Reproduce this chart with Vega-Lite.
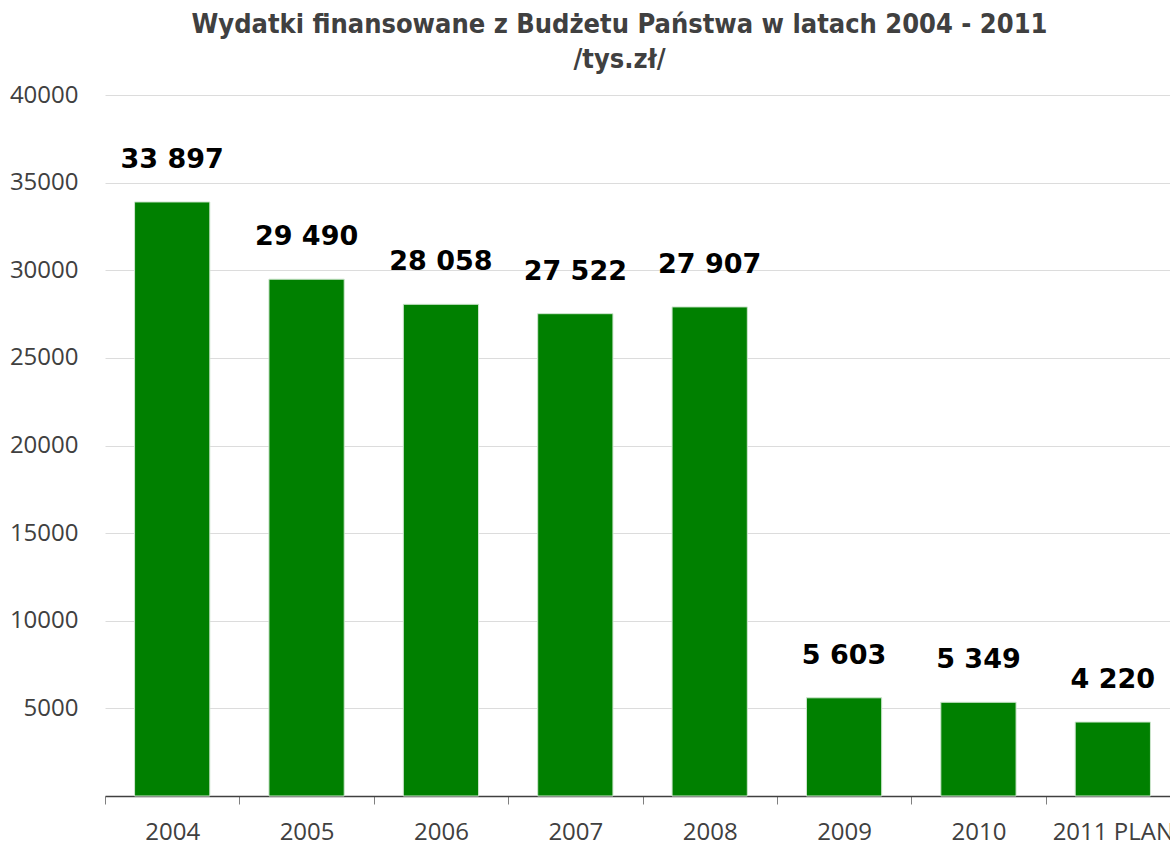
{
  "$schema": "https://vega.github.io/schema/vega-lite/v6.json",
  "autosize": {"type": "none"},
  "padding": {"left": 105, "top": 95, "right": 0, "bottom": 50},
  "width": 1075,
  "height": 701,
  "background": "white",
  "config": {
    "view": {"stroke": null},
    "locale": {"number": {"decimal": ",", "thousands": " ", "grouping": [3], "currency": ["", " zł"]}}
  },
  "title": {
    "text": ["Wydatki finansowane z Budżetu Państwa w latach 2004 - 2011", "/tys.zł/"],
    "font": "DejaVu Sans Condensed",
    "fontWeight": "bold",
    "fontSize": 27,
    "color": "#404040",
    "lineHeight": 35,
    "anchor": "middle",
    "dx": -23,
    "offset": -12,
    "baseline": "alphabetic"
  },
  "data": {
    "values": [
      {"rok": "2004", "wartosc": 33897},
      {"rok": "2005", "wartosc": 29490},
      {"rok": "2006", "wartosc": 28058},
      {"rok": "2007", "wartosc": 27522},
      {"rok": "2008", "wartosc": 27907},
      {"rok": "2009", "wartosc": 5603},
      {"rok": "2010", "wartosc": 5349},
      {"rok": "2011 PLAN", "wartosc": 4220}
    ]
  },
  "encoding": {
    "x": {
      "field": "rok",
      "type": "nominal",
      "sort": null,
      "scale": {"paddingInner": 0, "paddingOuter": 0},
      "axis": {
        "title": null,
        "labelAngle": 0,
        "labelFont": "Open Sans",
        "labelFontSize": 24,
        "labelColor": "#404040",
        "labelPadding": 16,
        "domainColor": "#404040",
        "domainWidth": 1.5,
        "tickColor": "#808080",
        "tickSize": 8,
        "tickBand": "extent",
        "grid": false
      }
    },
    "y": {
      "field": "wartosc",
      "type": "quantitative",
      "scale": {"domain": [0, 40000]},
      "axis": {
        "title": null,
        "values": [5000, 10000, 15000, 20000, 25000, 30000, 35000, 40000],
        "format": "d",
        "labelFont": "Open Sans",
        "labelFontSize": 24,
        "labelColor": "#404040",
        "labelPadding": 27,
        "domain": false,
        "ticks": false,
        "gridColor": "#dcdcdc",
        "gridWidth": 1
      }
    }
  },
  "layer": [
    {
      "mark": {"type": "bar", "color": "#008000", "stroke": "#cfe6cf", "strokeWidth": 1, "width": {"band": 0.56}}
    },
    {
      "mark": {
        "type": "text",
        "baseline": "alphabetic",
        "dy": -34,
        "font": "DejaVu Sans",
        "fontWeight": "bold",
        "fontSize": 27,
        "color": "#000000"
      },
      "encoding": {
        "text": {"field": "wartosc", "type": "quantitative", "format": ",d"}
      }
    }
  ]
}
